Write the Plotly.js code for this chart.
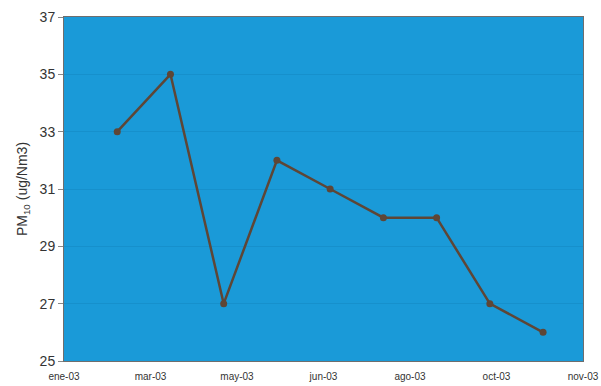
<!DOCTYPE html>
<html><head><meta charset="utf-8">
<script src="https://cdn.plot.ly/plotly-3.0.1.min.js"></script>
<style>html,body{margin:0;padding:0;background:#fff;}#chart{width:601px;height:386px;}</style>
</head><body><div id="chart"></div>
<script>
var pointIndex = [1, 2, 3, 4, 5, 6, 7, 8, 9];
var pm10 = [33, 35, 27, 32, 31, 30, 30, 27, 26];
var tickLabels = ["ene-03", "mar-03", "may-03", "jun-03", "ago-03", "oct-03", "nov-03"];
var yTicks = [25, 27, 29, 31, 33, 35, 37];

var xMax = 9.75;
var tickPos = tickLabels.map(function(_, i){ return i * xMax / (tickLabels.length - 1); });

var trace = {
  x: pointIndex, y: pm10, type: 'scatter', mode: 'lines+markers',
  line: {color: '#5e4636', width: 2.5},
  marker: {color: '#5e4636', size: 7},
  hoverinfo: 'skip'
};
var layout = {
  width: 601, height: 386,
  margin: {l: 64, r: 18, t: 17, b: 25},
  paper_bgcolor: '#ffffff',
  plot_bgcolor: '#1a9ad8',
  showlegend: false,
  font: {family: 'Liberation Sans, Arial, sans-serif', color: '#333333'},
  xaxis: {
    range: [0, xMax], tickmode: 'array', tickvals: tickPos, ticktext: tickLabels,
    showgrid: false, zeroline: false, showline: true, linecolor: '#6e6e6e', linewidth: 1,
    mirror: true, ticks: '', ticklabelstandoff: 6,
    tickfont: {size: 10, color: '#333'}
  },
  yaxis: {
    range: [25, 37], tickmode: 'array', tickvals: yTicks,
    showgrid: true, gridcolor: '#1690cc', gridwidth: 1,
    zeroline: false, showline: true, linecolor: '#6e6e6e', linewidth: 1, mirror: true,
    ticks: 'outside', ticklen: 5, tickcolor: '#888',
    tickfont: {size: 14, color: '#333'},
    title: {text: 'PM<sub>10</sub> (ug/Nm3)', font: {size: 14, color: '#333'}, standoff: 8}
  }
};
Plotly.newPlot('chart', [trace], layout, {displayModeBar: false, staticPlot: true});
</script></body></html>
